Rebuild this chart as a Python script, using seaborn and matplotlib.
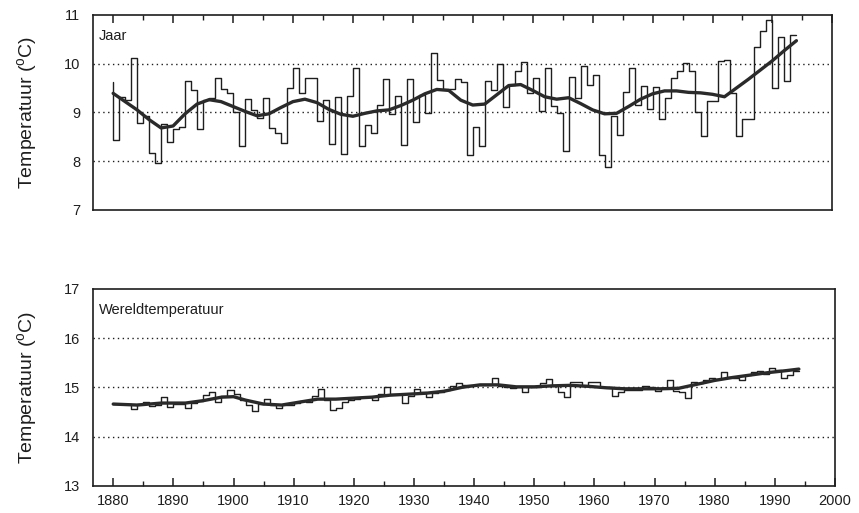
import numpy as np
import pandas as pd
import matplotlib
matplotlib.use("Agg")
import matplotlib.pyplot as plt
from matplotlib.ticker import MultipleLocator
import seaborn as sns

# Annual mean temperature, De Bilt (Jaar), 1880-1994
years = list(range(1880, 1995))
jaar = [
    9.63,
    8.44, 9.31, 9.26, 10.12, 8.78, 8.92, 8.17, 7.97, 8.77, 8.39,
    8.65, 8.70, 9.64, 9.46, 8.66, 9.25, 9.30, 9.70, 9.47, 9.40,
    9.00, 8.31, 9.27, 9.05, 8.88, 9.30, 8.68, 8.58, 8.38, 9.49,
    9.90, 9.39, 9.70, 9.70, 8.82, 9.26, 8.36, 9.31, 8.14, 9.33,
    9.92, 8.31, 8.75, 8.57, 9.16, 9.68, 8.96, 9.33, 8.32, 9.68,
    8.80, 9.36, 8.98, 10.22, 9.67, 9.48, 9.48, 9.69, 9.63, 8.13,
    8.69, 8.31, 9.64, 9.46, 9.99, 9.11, 9.56, 9.85, 10.04, 9.39,
    9.70, 9.02, 9.92, 9.12, 8.99, 8.21, 9.73, 9.29, 9.95, 9.56,
    9.76, 8.13, 7.87, 8.92, 8.53, 9.41, 9.90, 9.16, 9.54, 9.07,
    9.52, 8.86, 9.29, 9.70, 9.85, 10.02, 9.84, 9.00, 8.52, 9.23,
    9.23, 10.06, 10.08, 9.40, 8.52, 8.86, 8.86, 10.35, 10.66, 10.90,
    9.49, 10.54, 9.64, 10.59,
]

# Global mean temperature (Wereldtemperatuur), 1880-1994
wereld = [
    14.66,
    14.66, 14.66, 14.66, 14.55, 14.66, 14.71, 14.62, 14.65, 14.81, 14.60,
    14.66, 14.66, 14.59, 14.68, 14.73, 14.85, 14.90, 14.71, 14.83, 14.95,
    14.86, 14.75, 14.64, 14.52, 14.66, 14.77, 14.64, 14.57, 14.65, 14.64,
    14.68, 14.72, 14.71, 14.83, 14.97, 14.75, 14.53, 14.58, 14.70, 14.75,
    14.76, 14.80, 14.80, 14.75, 14.86, 15.00, 14.86, 14.86, 14.68, 14.83,
    14.97, 14.90, 14.80, 14.88, 14.91, 14.95, 15.02, 15.08, 15.05, 15.05,
    15.05, 15.05, 15.05, 15.18, 15.03, 15.00, 14.98, 15.00, 14.91, 15.01,
    15.00, 15.09, 15.16, 15.03, 14.90, 14.80, 15.10, 15.10, 15.03, 15.10,
    15.10, 15.00, 15.00, 14.83, 14.90, 14.95, 14.95, 14.95, 15.03, 15.00,
    14.93, 14.99, 15.15, 14.93, 14.90, 14.78, 15.10, 15.08, 15.14, 15.19,
    15.17, 15.31, 15.20, 15.19, 15.14, 15.24, 15.31, 15.34, 15.27, 15.39,
    15.35, 15.19, 15.24, 15.34,
]

# Smoothed trend lines
jaar_trend_years = [1880, 1882, 1884, 1886, 1888, 1890, 1892, 1894, 1896, 1898,
                    1900, 1902, 1904, 1906, 1908, 1910, 1912, 1914, 1916, 1918,
                    1920, 1922, 1924, 1926, 1928, 1930, 1932, 1934, 1936, 1938,
                    1940, 1942, 1944, 1946, 1948, 1950, 1952, 1954, 1956, 1958,
                    1960, 1962, 1964, 1966, 1968, 1970, 1972, 1974, 1976, 1978,
                    1980, 1982, 1984, 1986, 1988, 1990, 1992, 1994]
jaar_trend = [9.39, 9.22, 9.05, 8.85, 8.68, 8.72, 8.97, 9.17, 9.26, 9.22,
              9.12, 9.02, 8.93, 8.97, 9.10, 9.22, 9.27, 9.20, 9.06, 8.96,
              8.92, 8.98, 9.03, 9.05, 9.14, 9.25, 9.38, 9.47, 9.45, 9.25,
              9.15, 9.17, 9.36, 9.55, 9.57, 9.45, 9.32, 9.27, 9.30, 9.18,
              9.05, 8.97, 8.98, 9.12, 9.27, 9.38, 9.44, 9.44, 9.41, 9.40,
              9.37, 9.32, 9.50, 9.68, 9.87, 10.06, 10.27, 10.47]

wereld_trend_years = [1880, 1884, 1888, 1892, 1895, 1898, 1900, 1902, 1905, 1908,
                      1911, 1914, 1917, 1920, 1923, 1926, 1929, 1932, 1935, 1938,
                      1941, 1944, 1947, 1950, 1953, 1956, 1959, 1962, 1965, 1968,
                      1971, 1974, 1977, 1980, 1983, 1986, 1989, 1992, 1994]
wereld_trend = [14.66, 14.64, 14.68, 14.68, 14.73, 14.80, 14.81, 14.74, 14.66, 14.64,
                14.70, 14.76, 14.76, 14.78, 14.80, 14.84, 14.86, 14.88, 14.92, 15.00,
                15.05, 15.05, 15.01, 15.01, 15.03, 15.04, 15.02, 14.99, 14.97, 14.97,
                14.97, 14.98, 15.06, 15.14, 15.20, 15.25, 15.30, 15.34, 15.37]

x_ticks = list(range(1880, 2001, 10))

sns.set_style("white")
plt.rcParams["font.family"] = ["Liberation Sans", "DejaVu Sans"]
plt.rcParams["mathtext.fontset"] = "custom"
plt.rcParams["mathtext.rm"] = "Liberation Sans"
plt.rcParams["mathtext.it"] = "Liberation Sans"

ink = "#1e1e1e"
fig = plt.figure(figsize=(8.59, 5.13), dpi=100)
ax1 = fig.add_axes([0.108, 0.591, 0.861, 0.380])
ax2 = fig.add_axes([0.108, 0.053, 0.864, 0.384])

panels = [
    (ax1, jaar, jaar_trend_years, jaar_trend, (7, 11), [7, 8, 9, 10, 11], "Jaar"),
    (ax2, wereld, wereld_trend_years, wereld_trend, (13, 17), [13, 14, 15, 16, 17], "Wereldtemperatuur"),
]

for ax, vals, tyears, tvals, ylim, yt, title in panels:
    df = pd.DataFrame({"jaar": years, "temp": vals})
    tdf = pd.DataFrame({"jaar": tyears, "temp": tvals})
    sns.lineplot(data=df, x="jaar", y="temp", ax=ax, color=ink, lw=1.0,
                 drawstyle="steps-pre", errorbar=None)
    sns.lineplot(data=tdf, x="jaar", y="temp", ax=ax, color="#2a2a2a", lw=2.4,
                 errorbar=None)
    ax.set_xlim(1876.6, 2000)
    ax.set_ylim(*ylim)
    ax.set_yticks(yt)
    ax.set_yticklabels([str(v) for v in yt], fontsize=10.5, color=ink)
    for g in yt[1:-1]:
        ax.axhline(g, color=ink, lw=1.0, ls=(0, (1, 2.5)), zorder=0)
    ax.tick_params(axis="y", length=0, pad=9)
    ax.set_ylabel(r"Temperatuur ($^{\rm o}$C)", fontsize=14, color=ink, labelpad=18)
    ax.set_xlabel("")
    ax.text(0.008, 0.89, title, transform=ax.transAxes, fontsize=10.5, color=ink,
            ha="left", va="center")
    for s in ax.spines.values():
        s.set_color(ink)
        s.set_linewidth(1.2)
    ax.xaxis.set_major_locator(MultipleLocator(10))
    ax.xaxis.set_minor_locator(MultipleLocator(5))

ax1.tick_params(axis="x", which="both", direction="in", top=True, bottom=False,
                labeltop=False, labelbottom=False, color=ink)
ax1.tick_params(axis="x", which="major", length=6, width=1.1)
ax1.tick_params(axis="x", which="minor", length=3.5, width=1.0)

ax2.tick_params(axis="x", which="both", direction="in", top=False, bottom=True,
                labelbottom=True, color=ink)
ax2.tick_params(axis="x", which="major", length=6, width=1.1, pad=6)
ax2.tick_params(axis="x", which="minor", length=3.5, width=1.0)
ax2.set_xticks(x_ticks)
ax2.set_xticklabels([str(t) for t in x_ticks], fontsize=10.5, color=ink)

fig.savefig("out.png", dpi=100, facecolor="white")
